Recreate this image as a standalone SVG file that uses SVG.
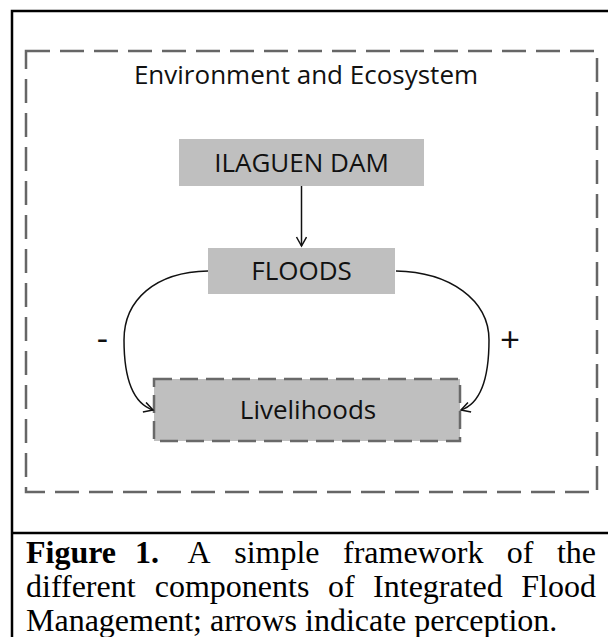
<svg xmlns="http://www.w3.org/2000/svg" width="608" height="637" viewBox="0 0 608 637">
<style>
.frame{fill:none;stroke:#000;stroke-width:2.5}
.env{fill:none;stroke:#666;stroke-width:2.5;stroke-dasharray:24 10}
.box{fill:#bfbfbf}
.live{fill:#bfbfbf;stroke:#696969;stroke-width:2.5;stroke-dasharray:18 8}
.lbl{font-family:"Open Sans","Noto Sans",sans-serif;font-size:26px;fill:#111;text-anchor:middle}
.sign{font-family:"Open Sans","Noto Sans",sans-serif;font-size:35px;fill:#111;text-anchor:middle}
.conn{fill:none;stroke:#111;stroke-width:1.5}
.cap{font-family:"Liberation Serif","Times New Roman",serif;font-size:32px;fill:#000}
.b{font-weight:bold}
</style>
<defs>
<marker id="chev" markerWidth="13" markerHeight="13" refX="10" refY="5.5" orient="auto" markerUnits="userSpaceOnUse">
<path d="M1,0.5 L10,5.5 L1,10.5" fill="none" stroke="#111" stroke-width="1.5"/>
</marker>
</defs>
<path class="frame" d="M12,637 V11 H608 M12,533 H608"/>
<g id="environment">
<rect class="env" x="26" y="51" width="571" height="441"/>
<text class="lbl" x="306" y="84">Environment and Ecosystem</text>
</g>
<g id="ilaguen-dam">
<rect class="box" x="179" y="139" width="245" height="47"/>
<text class="lbl" x="301.5" y="172">ILAGUEN DAM</text>
</g>
<g id="floods">
<rect class="box" x="208" y="248" width="187" height="46"/>
<text class="lbl" x="301.5" y="280">FLOODS</text>
</g>
<g id="livelihoods">
<rect class="live" x="154" y="379" width="306" height="62"/>
<text class="lbl" x="308" y="419">Livelihoods</text>
</g>
<g id="connectors">
<path class="conn" d="M301.5,186 V246" marker-end="url(#chev)"/>
<path class="conn" d="M208,271 C155,272 124,300 124,340 C124,375 132,403 153,410" marker-end="url(#chev)"/>
<path class="conn" d="M396,271 C450,272 489,300 489,340 C489,375 482,403 461,410" marker-end="url(#chev)"/>
<text class="sign" x="102.5" y="350">-</text>
<text class="sign" x="510" y="352">+</text>
</g>
<g id="caption">
<text class="cap" y="563"><tspan class="b" x="26">Figure</tspan><tspan class="b" x="135">1.</tspan><tspan x="187.6">A</tspan><tspan x="234.2">simple</tspan><tspan x="343">framework</tspan><tspan x="506.8">of</tspan><tspan x="596" text-anchor="end">the</tspan></text>
<text class="cap" y="597"><tspan x="26">different</tspan><tspan x="154.7">components</tspan><tspan x="327.9">of</tspan><tspan x="373.1">Integrated</tspan><tspan x="596" text-anchor="end">Flood</tspan></text>
<text class="cap" x="26" y="631">Management; arrows indicate perception.</text>
</g>
</svg>
